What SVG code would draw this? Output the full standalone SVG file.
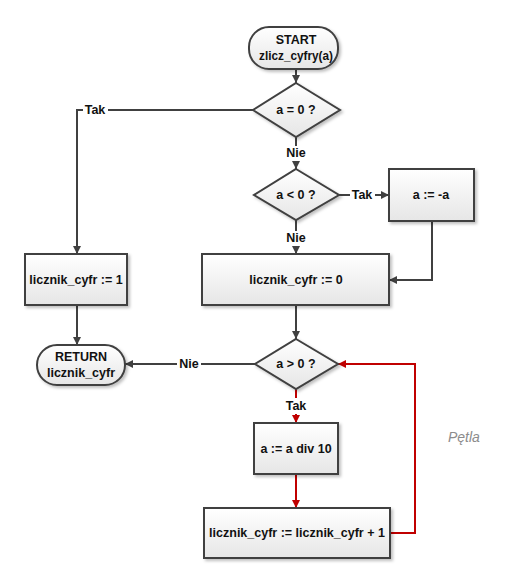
<svg xmlns="http://www.w3.org/2000/svg" width="505" height="584" viewBox="0 0 505 584">
  <defs>
    <linearGradient id="fill" x1="0" y1="0" x2="0" y2="1">
      <stop offset="0" stop-color="#ffffff"/>
      <stop offset="1" stop-color="#e6e6e6"/>
    </linearGradient>
    <filter id="shadow" x="-10%" y="-10%" width="130%" height="140%">
      <feDropShadow dx="2" dy="2" stdDeviation="1.5" flood-color="#000" flood-opacity="0.25"/>
    </filter>
    <marker id="arrow" viewBox="0 0 10 10" refX="10" refY="5" markerWidth="8" markerHeight="8" orient="auto" markerUnits="userSpaceOnUse">
      <path d="M0,0 L10,5 L0,10 z" fill="#404040"/>
    </marker>
    <marker id="arrowRed" viewBox="0 0 10 10" refX="10" refY="5" markerWidth="8" markerHeight="8" orient="auto" markerUnits="userSpaceOnUse">
      <path d="M0,0 L10,5 L0,10 z" fill="#c00000"/>
    </marker>
  </defs>
  <style>
    .shape { fill: url(#fill); stroke: #404040; stroke-width: 2; filter: url(#shadow); }
    .t { font-family: "Liberation Sans", Arial, sans-serif; font-size: 12.5px; font-weight: bold; fill: #111111; text-anchor: middle; dominant-baseline: central; }
    .lbl { font-family: "Liberation Sans", Arial, sans-serif; font-size: 12.5px; font-weight: bold; fill: #111111; text-anchor: middle; dominant-baseline: central; }
    .bg { fill: #ffffff; }
    .edge { fill: none; stroke: #404040; stroke-width: 2; }
    .red { fill: none; stroke: #c00000; stroke-width: 2; }
    .note { font-family: "Liberation Sans", Arial, sans-serif; font-size: 14px; font-style: italic; fill: #8c8c8c; }
  </style>
  <rect width="505" height="584" fill="#ffffff"/>

  <!-- connectors -->
  <g id="connectors">
    <path class="edge" d="M296,69 V83" marker-end="url(#arrow)"/>
    <path class="edge" d="M253,110 H77 V254" marker-end="url(#arrow)"/>
    <path class="edge" d="M296,137 V169" marker-end="url(#arrow)"/>
    <path class="edge" d="M339,195 H389" marker-end="url(#arrow)"/>
    <path class="edge" d="M296,220 V254" marker-end="url(#arrow)"/>
    <path class="edge" d="M432,221 V280 H389" marker-end="url(#arrow)"/>
    <path class="edge" d="M77,305 V345" marker-end="url(#arrow)"/>
    <path class="edge" d="M296,305 V339" marker-end="url(#arrow)"/>
    <path class="edge" d="M255,364 H125" marker-end="url(#arrow)"/>
    <path class="red" d="M296,389 V423" marker-end="url(#arrowRed)"/>
    <path class="red" d="M296,474 V508" marker-end="url(#arrowRed)"/>
    <path class="red" d="M390,533 H415 V364 H338" marker-end="url(#arrowRed)"/>

    <!-- connector labels -->
    <rect class="bg" x="83" y="102" width="25" height="16"/>
    <text class="lbl" x="95" y="110">Tak</text>
    <rect class="bg" x="284" y="146" width="24" height="15"/>
    <text class="lbl" x="296" y="153">Nie</text>
    <rect class="bg" x="350" y="187" width="25" height="16"/>
    <text class="lbl" x="362" y="195">Tak</text>
    <rect class="bg" x="284" y="231" width="24" height="15"/>
    <text class="lbl" x="296" y="238">Nie</text>
    <rect class="bg" x="177" y="356" width="24" height="16"/>
    <text class="lbl" x="189" y="364">Nie</text>
    <rect class="bg" x="284" y="398" width="25" height="16"/>
    <text class="lbl" x="296" y="406">Tak</text>
  </g>

  <g id="start">
    <rect class="shape" x="249" y="27" width="89" height="42" rx="20" ry="20"/>
    <text class="t" x="296" y="40">START</text>
    <text class="t" x="296" y="56" textLength="74" lengthAdjust="spacingAndGlyphs">zlicz_cyfry(a)</text>
  </g>

  <g id="if-zero">
    <polygon class="shape" points="296,83 340,110 296,137 253,110"/>
    <text class="t" x="296" y="110">a = 0 ?</text>
  </g>

  <g id="if-negative">
    <polygon class="shape" points="296,169 339,195 296,220 254,195"/>
    <text class="t" x="296" y="195">a &lt; 0 ?</text>
  </g>

  <g id="negate">
    <rect class="shape" x="389" y="169" width="85" height="52"/>
    <text class="t" x="431" y="195">a := -a</text>
  </g>

  <g id="set-one">
    <rect class="shape" x="25" y="254" width="102" height="51"/>
    <text class="t" x="76" y="280">licznik_cyfr := 1</text>
  </g>

  <g id="set-zero">
    <rect class="shape" x="202" y="254" width="187" height="51"/>
    <text class="t" x="296" y="280">licznik_cyfr := 0</text>
  </g>

  <g id="return">
    <rect class="shape" x="37" y="345" width="88" height="40" rx="20" ry="20"/>
    <text class="t" x="81" y="357">RETURN</text>
    <text class="t" x="81" y="373">licznik_cyfr</text>
  </g>

  <g id="if-positive">
    <polygon class="shape" points="296,339 338,364 296,389 255,364"/>
    <text class="t" x="296" y="364">a &gt; 0 ?</text>
  </g>

  <g id="divide">
    <rect class="shape" x="254" y="423" width="84" height="51"/>
    <text class="t" x="296" y="449">a := a div 10</text>
  </g>

  <g id="increment">
    <rect class="shape" x="204" y="508" width="186" height="50"/>
    <text class="t" x="297" y="533">licznik_cyfr := licznik_cyfr + 1</text>
  </g>

  <text class="note" x="448" y="442">Pętla</text>
</svg>
